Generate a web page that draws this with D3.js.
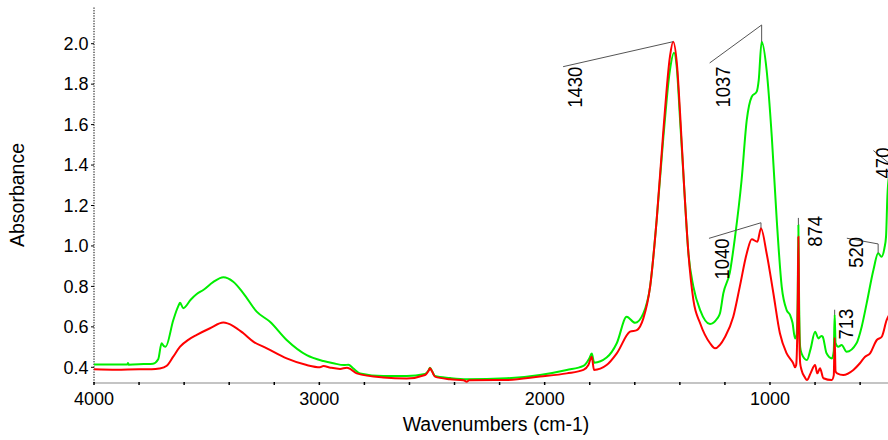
<!DOCTYPE html>
<html><head><meta charset="utf-8">
<script src="https://cdn.jsdelivr.net/npm/d3@7"></script>
<style>
body{margin:0;background:#fff}
svg{display:block}
text{font-family:"Liberation Sans",Arial,sans-serif;fill:#000}
</style>
</head><body>
<svg id="chart" width="888" height="440"></svg>
<script>
// ---- data ----
const greenWn  = [4000,3900,3852,3849,3846,3780,3738,3715,3700,3690,3682,3648,3625,3618,3604,3570,3544,3515,3470,3426,3382,3337,3278,3219,3145,3056,2982,2938,2890,2871,2850,2819,2716,2612,2531,2515,2509,2500,2487,2420,2346,2169,2021,1902,1828,1802,1791,1780,1725,1680,1636,1599,1562,1532,1503,1473,1444,1426,1414,1399,1381,1362,1340,1310,1266,1235,1222,1207,1178,1155,1126,1103,1081,1059,1050,1037,1015,992,970,948,926,911,900,889,882,877,874,871,866,860,836,820,800,785,772,766,749,725,717,713,709,697,682,660,616,593,571,541,520,505,492,485,479,470,460];
const greenAbs = [0.414,0.414,0.414,0.421,0.413,0.416,0.418,0.440,0.519,0.505,0.502,0.634,0.705,0.719,0.692,0.735,0.762,0.782,0.822,0.845,0.823,0.766,0.675,0.625,0.535,0.460,0.431,0.420,0.411,0.413,0.395,0.370,0.357,0.357,0.367,0.385,0.398,0.382,0.357,0.347,0.341,0.346,0.362,0.387,0.407,0.444,0.468,0.423,0.448,0.519,0.650,0.620,0.667,0.799,1.128,1.540,1.870,1.955,1.886,1.623,1.293,0.964,0.799,0.683,0.614,0.640,0.667,0.766,0.870,1.046,1.326,1.623,1.738,1.763,1.820,2.010,1.870,1.540,1.128,0.799,0.683,0.659,0.620,0.543,0.560,0.750,1.104,0.750,0.500,0.469,0.436,0.490,0.576,0.543,0.555,0.551,0.469,0.444,0.480,0.660,0.520,0.502,0.510,0.477,0.519,0.601,0.716,0.881,0.964,0.947,0.990,1.046,1.244,1.350,1.360];

const redWn  = [4000,3900,3800,3744,3710,3677,3650,3618,3580,3544,3485,3426,3382,3337,3293,3233,3145,3056,2997,2982,2950,2908,2878,2860,2834,2716,2612,2531,2515,2509,2500,2487,2420,2360,2346,2335,2169,2021,1902,1828,1806,1791,1781,1725,1680,1621,1591,1562,1532,1503,1473,1444,1430,1412,1399,1381,1362,1340,1310,1266,1244,1199,1163,1134,1103,1081,1056,1040,1015,985,956,926,897,889,884,877,874,871,866,860,845,836,820,800,790,778,763,726,717,713,709,702,675,630,601,578,556,526,504,482,470,460];
const redAbs = [0.390,0.388,0.390,0.390,0.394,0.408,0.450,0.502,0.537,0.560,0.593,0.621,0.604,0.568,0.527,0.494,0.444,0.411,0.400,0.406,0.398,0.392,0.398,0.390,0.370,0.350,0.345,0.362,0.383,0.395,0.380,0.354,0.341,0.336,0.329,0.336,0.337,0.354,0.370,0.387,0.411,0.452,0.387,0.411,0.469,0.576,0.584,0.642,0.799,1.128,1.573,1.936,2.010,1.886,1.656,1.293,0.964,0.733,0.618,0.519,0.494,0.551,0.650,0.799,0.964,1.033,1.021,1.087,0.964,0.766,0.568,0.469,0.420,0.400,0.410,0.700,1.046,0.650,0.420,0.387,0.350,0.337,0.370,0.411,0.370,0.395,0.346,0.337,0.360,0.545,0.380,0.370,0.362,0.387,0.420,0.452,0.469,0.535,0.551,0.634,0.660,0.670];

const xTickLabels = [4000,3000,2000,1000];
const xMinorTicks = d3.range(4000, 399, -200);
const yTickLabels = [0.4,0.6,0.8,1.0,1.2,1.4,1.6,1.8,2.0];

const peakLabels = ["1430","1037","1040","874","713","520","470"];
const peakWn     = [1430,1037,1040,874,713,520,470];
const peakSeries = ["red","green","red","green","green","green","green"];

// ---- layout (pixels) ----
const W = 888, H = 440;
const plotLeft = 94, plotRight = 888, plotTop = 7.5, plotBottom = 383;
// annotation layout: lift of anchor above peak, line start offset, text offset (relative to anchor)
const annLayout = [
  {lift:0,    ldx:-110, ldy:25,  tdx:-91, tdy:25},
  {lift:16.7, ldx:-52,  ldy:38,  tdx:-31.5, tdy:41.5},
  {lift:5.6,  ldx:-52,  ldy:15.6,tdx:-32, tdy:15.6},
  {lift:7,    ldx:0,    ldy:0,   tdx:23.5, tdy:-2},
  {lift:5,    ldx:0,    ldy:0,   tdx:18.5, tdy:-1},
  {lift:9.3,  ldx:-31.3,ldy:-5.7,tdx:-15, tdy:-7},
  {lift:11.6, ldx:-16,  ldy:-13, tdx:1,   tdy:-16}
];

const svg = d3.select("#chart");
const x = d3.scaleLinear().domain([4000, 400]).range([94, 94 + 3600 * 0.22533]);
const y = d3.scaleLinear().domain([0.4, 2.0]).range([367.3, 43.7]);

svg.append("defs").append("clipPath").attr("id","clip")
  .append("rect").attr("x", plotLeft).attr("y", 0).attr("width", plotRight - plotLeft).attr("height", plotBottom);

// x axis (gray line + black minor ticks)
svg.append("line").attr("x1", plotLeft).attr("x2", W).attr("y1", plotBottom).attr("y2", plotBottom)
  .attr("stroke", "#c4c4c4").attr("stroke-width", 2);
svg.append("g").selectAll("line").data(xMinorTicks.filter(d => x(d) <= W)).join("line")
  .attr("x1", d => x(d)).attr("x2", d => x(d)).attr("y1", plotBottom - 1).attr("y2", plotBottom + 2)
  .attr("stroke", "#000").attr("stroke-width", 1.5);
svg.append("g").selectAll("text").data(xTickLabels).join("text")
  .attr("x", d => x(d)).attr("y", 405).attr("text-anchor", "middle").attr("font-size", 18)
  .text(d => d);

// y axis (dotted line + ticks)
svg.append("line").attr("x1", plotLeft).attr("x2", plotLeft).attr("y1", plotTop).attr("y2", plotBottom)
  .attr("stroke", "#000").attr("stroke-width", 1).attr("stroke-dasharray", "1.3,1.3");
svg.append("g").selectAll("line").data(yTickLabels).join("line")
  .attr("x1", plotLeft - 3).attr("x2", plotLeft).attr("y1", d => y(d)).attr("y2", d => y(d))
  .attr("stroke", "#000").attr("stroke-width", 1);
svg.append("g").selectAll("text").data(yTickLabels).join("text")
  .attr("x", 88.5).attr("y", d => y(d)).attr("dy", "0.35em").attr("text-anchor", "end").attr("font-size", 18)
  .text(d => d.toFixed(1));

// axis titles
svg.append("text").attr("x", 496).attr("y", 431).attr("text-anchor", "middle").attr("font-size", 19.5)
  .text("Wavenumbers (cm-1)");
svg.append("text").attr("transform", "translate(24,195) rotate(-90)").attr("text-anchor", "middle")
  .attr("font-size", 19.5).text("Absorbance");

// spectra
const line = d3.line().x(d => x(d[0])).y(d => y(d[1])).curve(d3.curveMonotoneX);
const greenPts = d3.zip(greenWn, greenAbs);
const redPts = d3.zip(redWn, redAbs);
const g = svg.append("g").attr("clip-path", "url(#clip)");
g.append("path").datum(greenPts).attr("d", line).attr("fill", "none").attr("stroke", "#00ee00").attr("stroke-width", 2).attr("stroke-linejoin","round");
g.append("path").datum(redPts).attr("d", line).attr("fill", "none").attr("stroke", "#ff0000").attr("stroke-width", 2).attr("stroke-linejoin","round");

// peak annotations
const seriesMap = {green: [greenWn, greenAbs], red: [redWn, redAbs]};
const ann = svg.append("g");
peakLabels.forEach((lab, i) => {
  const [wns, vals] = seriesMap[peakSeries[i]];
  const v = vals[wns.indexOf(peakWn[i])];
  const px = x(peakWn[i]), py = y(v);
  const L = annLayout[i];
  const ax = px, ay = py - L.lift;
  const p = d3.path();
  p.moveTo(ax + L.ldx, ay + L.ldy);
  p.lineTo(ax, ay);
  p.lineTo(px, py);
  ann.append("path").attr("d", p.toString()).attr("fill", "none").attr("stroke", "#555").attr("stroke-width", 1);
  ann.append("text").attr("transform", `translate(${ax + L.tdx},${ay + L.tdy}) rotate(-90) scale(1,1.12)`)
    .attr("text-anchor", "end").attr("font-size", 18.5).text(lab);
});
</script>
</body></html>
